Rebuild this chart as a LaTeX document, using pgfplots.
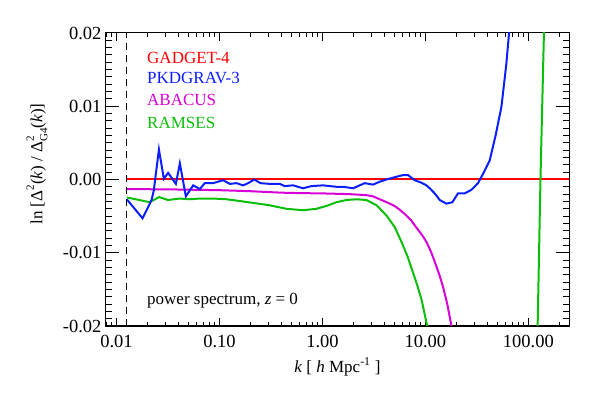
\documentclass[border=0pt]{standalone}
\usepackage{pgfplots}
\pgfplotsset{compat=1.18}
\usepackage{fontspec}
\setmainfont{Liberation Serif}
\definecolor{lnred}{RGB}{255,0,0}
\definecolor{lnblue}{RGB}{10,30,255}
\definecolor{lnmag}{RGB}{215,0,215}
\definecolor{lngreen}{RGB}{10,190,10}
\newcommand{\lblfont}{\fontsize{17}{20}\selectfont}
\newcommand{\scr}{\fontsize{11}{12}\selectfont}
\newcommand{\supsub}[2]{\makebox[0pt][l]{\raisebox{0.5em}{\scr #1}}\raisebox{-0.3em}{\scr #2}}
\begin{document}
\begin{tikzpicture}
\path[use as bounding box] (-106pt,-67pt) rectangle (485pt,326pt);
\begin{axis}[
  at={(0,0)}, anchor=south west, scale only axis,
  width=463pt, height=293pt,
  xmode=log, xmin=0.0079, xmax=248, ymin=-0.02, ymax=0.02,
  ymajorticks=false, yminorticks=false,
  xtick={0.01,0.1,1,10,100},
  xticklabels={0.01,0.10,1.00,10.00,100.00},
  minor xtick={0.008,0.009,0.02,0.03,0.04,0.05,0.06,0.07,0.08,0.09,0.2,0.3,0.4,0.5,0.6,0.7,0.8,0.9,2,3,4,5,6,7,8,9,20,30,40,50,60,70,80,90,200},
  tick align=inside, major tick length=8pt, minor tick length=4pt,
  axis line style={line width=1pt},
  every tick/.style={black, line width=1pt},
  xticklabel style={font=\fontsize{18.5}{20}\selectfont, yshift=-6pt},
  xlabel={\textit{k} [ \textit{h} Mpc\textsuperscript{-1} ]},
  every axis x label/.style={at={(axis description cs:0.5,-0.157)}, anchor=base, font=\lblfont},
]
\end{axis}
\begin{axis}[
  at={(0,0)}, anchor=south west, scale only axis,
  width=463pt, height=293pt,
  xmode=log, xmin=0.0079, xmax=248, ymin=-0.02, ymax=0.02,
  xmajorticks=false, xminorticks=false,
  ytick={-0.02,-0.01,0,0.01,0.02},
  yticklabels={-0.02,-0.01,0.00,0.01,0.02},
  scaled y ticks=false,
  minor y tick num=9,
  tick align=inside, major tick length=13pt, minor tick length=6.5pt,
  axis line style={line width=1pt},
  every tick/.style={black, line width=1pt},
  yticklabel style={font=\fontsize{18.5}{20}\selectfont, xshift=-1pt},
  ylabel={ln [Δ\raisebox{0.5em}{\scr 2}(\textit{k}) / Δ\supsub{2}{G4}(\textit{k})]},
  every axis y label/.style={at={(axis description cs:-0.149,0.553)}, rotate=90, anchor=center, font=\lblfont},
]
\addplot[color=lnred, line width=2pt] coordinates {(0.01257,0) (300,0)};
\addplot[color=lnmag, line width=2pt] coordinates {
(0.01257,-0.00132) (0.03,-0.00134) (0.1,-0.00146) (0.2,-0.0016) (0.4,-0.0018) (0.6,-0.00186)
(1.0,-0.0019) (1.84,-0.0020) (2.67,-0.00214) (3.1,-0.0023) (3.6,-0.0027) (4.2,-0.0031)
(5.0,-0.0036) (5.6,-0.0041) (6.4,-0.0048) (7.3,-0.0056) (8.2,-0.0066) (9.3,-0.0076)
(10.2,-0.0085) (11.2,-0.0097) (12.3,-0.0112) (13.5,-0.0128) (14.8,-0.0146) (16.3,-0.0170)
(17.9,-0.0200) (19.5,-0.0232)};
\addplot[color=lngreen, line width=2pt] coordinates {
(0.01257,-0.00245) (0.0210,-0.0031) (0.0259,-0.0024) (0.0317,-0.0028) (0.0412,-0.0026)
(0.0515,-0.0027) (0.0644,-0.0026) (0.0867,-0.0026) (0.117,-0.0027) (0.15,-0.0029)
(0.212,-0.0032) (0.3,-0.0035) (0.447,-0.0040) (0.649,-0.0042) (0.875,-0.0040)
(1.1,-0.0036) (1.37,-0.0031) (1.71,-0.0028) (2.14,-0.0027) (2.67,-0.0028) (3.34,-0.0035)
(4.18,-0.0049) (5.03,-0.0065) (5.85,-0.0085) (6.7,-0.0105) (7.62,-0.0128) (8.4,-0.0146)
(9.17,-0.0164) (10.4,-0.0200) (11.5,-0.0240) (50,-0.08) (114.8,-0.0397) (123,-0.02)
(131,0) (141.6,0.02) (151,0.039)};
\addplot[color=lnblue, line width=2pt] coordinates {
(0.01257,-0.0027) (0.0179,-0.0053) (0.0219,-0.0028) (0.0230,-0.0015) (0.0258,0.0041)
(0.0288,0.0001) (0.0317,0.0009) (0.0377,-0.0006) (0.0412,0.0022) (0.0471,-0.0023)
(0.0555,-0.0008) (0.0644,-0.0013) (0.0720,-0.0005) (0.0867,-0.0005) (0.1084,-0.0001)
(0.1259,-0.0006) (0.1463,-0.0005) (0.1696,-0.0008) (0.1898,-0.0005) (0.2169,0.0000)
(0.2502,-0.0005) (0.3078,-0.0006) (0.3846,-0.0006) (0.4305,-0.0009) (0.5188,-0.0008)
(0.6486,-0.0012) (0.782,-0.0009) (1.014,-0.0008) (1.368,-0.0010) (1.6,-0.0010)
(1.983,-0.0012) (2.3,-0.0008) (2.575,-0.0005) (3.10,-0.0007) (3.6,-0.0003) (4.18,0.0000)
(5.0,0.0003) (6.06,0.0006) (6.78,0.0006) (7.87,-0.0001) (9.0,-0.0004) (10.23,-0.0008)
(11.2,-0.0013) (12.31,-0.0019) (13.77,-0.0028) (16.0,-0.0033) (18.3,-0.0031)
(20.7,-0.0019) (24.1,-0.0019) (28.0,-0.0014) (32.4,-0.0005) (37,0.0010) (42.1,0.0026)
(48,0.0060) (54.7,0.0099) (61.1,0.0158) (64.8,0.0199) (68,0.0250)};
\addplot[black, line width=1pt, dash pattern=on 7pt off 5pt] coordinates {(0.01257,-0.02) (0.01257,0.02)};
\node[anchor=base west, text=lnred, font=\lblfont, inner sep=0pt] at (axis description cs:0.0886,0.8966) {GADGET-4};
\node[anchor=base west, text=lnblue, font=\lblfont, inner sep=0pt] at (axis description cs:0.0886,0.826) {PKDGRAV-3};
\node[anchor=base west, text=lnmag, font=\lblfont, inner sep=0pt] at (axis description cs:0.0886,0.751) {ABACUS};
\node[anchor=base west, text=lngreen, font=\lblfont, inner sep=0pt] at (axis description cs:0.0886,0.675) {RAMSES};
\node[anchor=base west, text=black, font=\lblfont, inner sep=0pt] at (axis description cs:0.0886,0.0717) {power spectrum, \textit{z} = 0};
\end{axis}
\end{tikzpicture}
\end{document}
